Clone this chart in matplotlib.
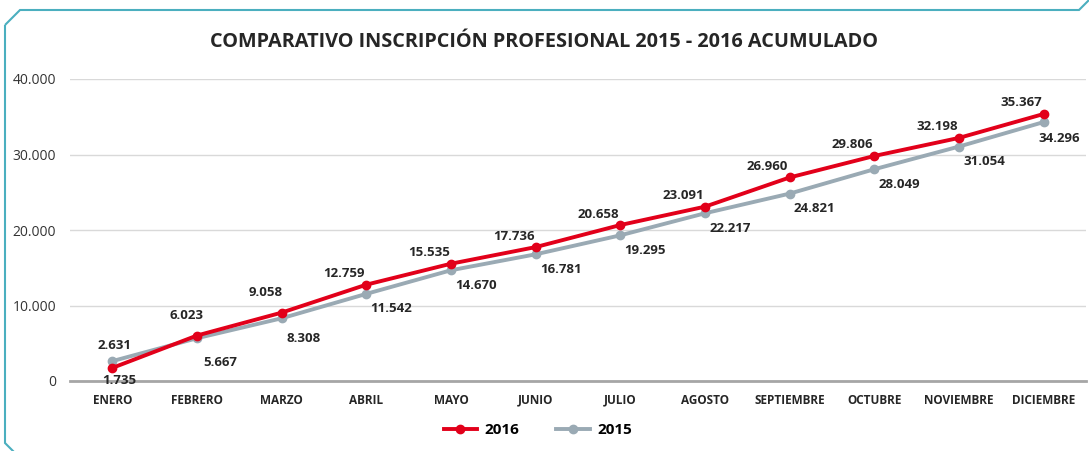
import matplotlib.pyplot as plt
from matplotlib.patches import Polygon
from matplotlib.ticker import FuncFormatter

# data
meses = ["ENERO", "FEBRERO", "MARZO", "ABRIL", "MAYO", "JUNIO", "JULIO",
         "AGOSTO", "SEPTIEMBRE", "OCTUBRE", "NOVIEMBRE", "DICIEMBRE"]
v2016 = [1735, 6023, 9058, 12759, 15535, 17736, 20658, 23091, 26960, 29806, 32198, 35367]
v2015 = [2631, 5667, 8308, 11542, 14670, 16781, 19295, 22217, 24821, 28049, 31054, 34296]
yticks = [0, 10000, 20000, 30000, 40000]

# label offsets in pixels (dx, dy down), as placed in the original
off16 = [(7, 13), (-10, -20), (-16, -20)] + [(-22, -11)] * 9
off15 = [(2, -16), (23, 24), (22, 20)] + [(25, 15)] * 8 + [(16, 16)]

rojo = "#E2001A"
gris = "#9AAAB4"
plt.rcParams['font.family'] = ['Open Sans', 'DejaVu Sans']

fig = plt.figure(figsize=(10.89, 4.51), dpi=100)

# teal frame with cut corners
W, H = 1089, 451
pts = [(5, H - 25), (20, H - 10), (1079, H - 10), (1092, H + 3),
       (1092, -5), (18, -5), (5, 8)]
frame = Polygon([(x / W, y / H) for x, y in pts], closed=True, fill=False,
                edgecolor="#4BAFBF", lw=1.5, transform=fig.transFigure)
fig.patches.append(frame)

ax = fig.add_axes([70 / W, 1 - 381 / H, (1086 - 70) / W, (381 - 79) / H])
x = list(range(len(meses)))
ax.plot(x, v2015, color=gris, lw=2.8, marker="o", ms=6, label="2015", zorder=3)
ax.plot(x, v2016, color=rojo, lw=2.8, marker="o", ms=6, label="2016", zorder=4)

fmt = lambda v: f"{v:,}".replace(",", ".")
px = 0.72  # pixels -> points
for i in x:
    for vals, off in ((v2016, off16), (v2015, off15)):
        dx, dy = off[i]
        ax.annotate(fmt(vals[i]), (i, vals[i]), xytext=(dx * px, -dy * px),
                    textcoords="offset points", ha="center", va="center",
                    fontsize=9.5, fontweight="bold", color="#262626", zorder=5)

ax.set_xlim(-0.5, len(meses) - 0.5)
ax.set_ylim(0, 40000)
ax.set_yticks(yticks)
ax.yaxis.set_major_formatter(FuncFormatter(lambda v, p: fmt(int(v))))
ax.set_xticks(x)
ax.set_xticklabels(meses, fontsize=8.5, fontweight="bold", color="#262626")
ax.tick_params(axis="y", length=0, labelsize=10, labelcolor="#333333", pad=10)
ax.tick_params(axis="x", length=0, pad=9)
ax.grid(axis="y", color="#D9D9D9", lw=1)
ax.set_axisbelow(True)
for s in ["top", "right", "left"]:
    ax.spines[s].set_visible(False)
ax.spines["bottom"].set_color("#A6A6A6")
ax.spines["bottom"].set_linewidth(2)

fig.text(0.5, 1 - 42 / H, "COMPARATIVO INSCRIPCIÓN PROFESIONAL 2015 - 2016 ACUMULADO",
         ha="center", va="center", fontsize=14.3, fontweight="bold", color="#262626")

h, l = ax.get_legend_handles_labels()
fig.legend(h[::-1], l[::-1], loc="center", bbox_to_anchor=(538 / W, 1 - 430 / H), ncol=2,
           frameon=False, prop={"weight": "bold", "size": 11}, handlelength=2.2,
           handletextpad=0.5, columnspacing=2.4)

fig.savefig("out.png", dpi=100)
